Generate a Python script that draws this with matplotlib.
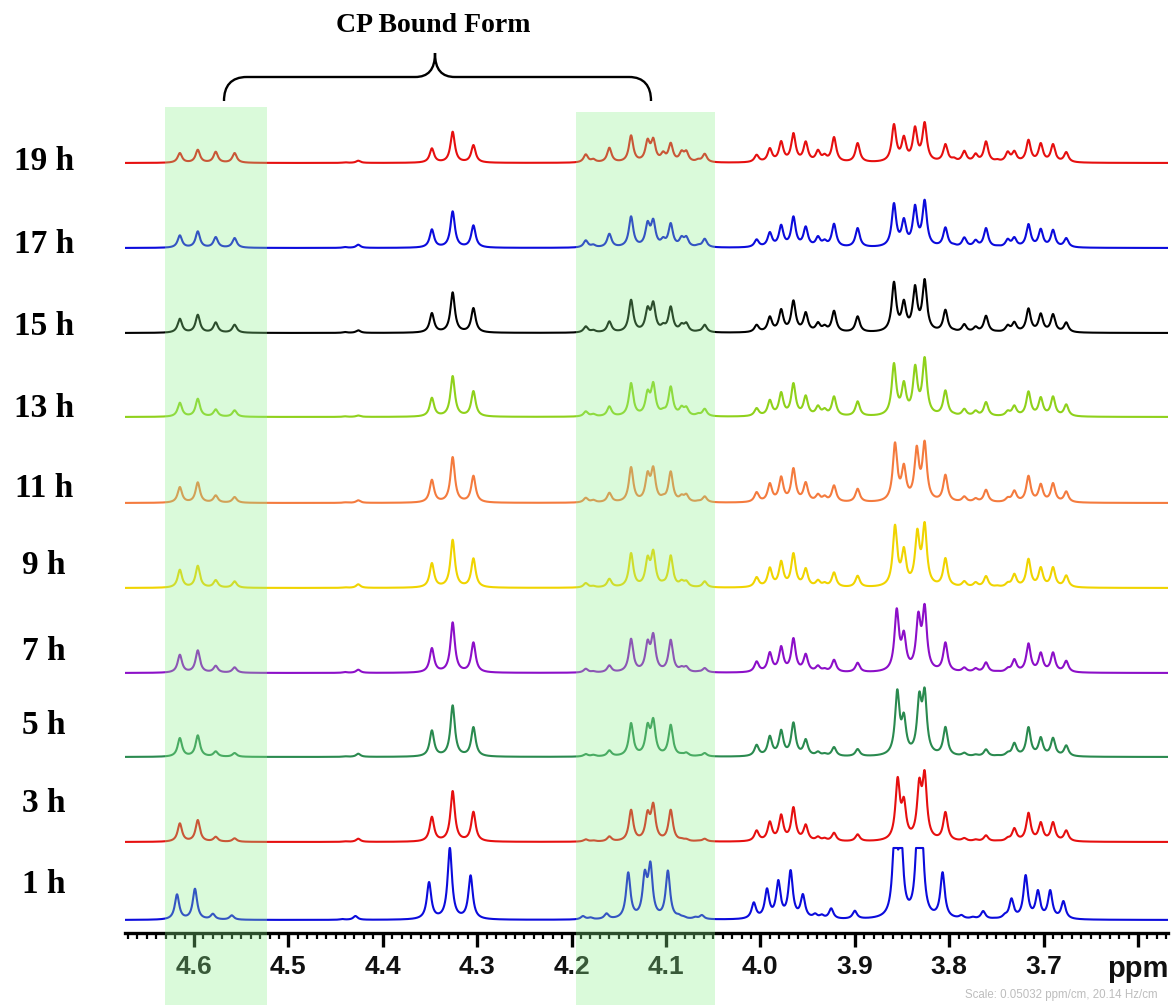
import numpy as np
import matplotlib
matplotlib.use("Agg")
import matplotlib.pyplot as plt
from matplotlib.patches import Rectangle, PathPatch
from matplotlib.path import Path
from matplotlib.ticker import MultipleLocator
from matplotlib.transforms import blended_transform_factory

W, H = 1171, 1005

times = ["1 h", "3 h", "5 h", "7 h", "9 h", "11 h", "13 h", "15 h", "17 h", "19 h"]
colors = ["#0b0bdc", "#e60f0f", "#2a8a4f", "#8c0fc8", "#f0d400",
          "#f47b3e", "#8fd11b", "#000000", "#0b0bdc", "#e60f0f"]

# resolved lines (ppm); the 3.85/3.83 entries are replaced per spectrum below
peak_ppm = [4.615, 4.596, 4.577, 4.557, 4.440, 4.426, 4.348, 4.326, 4.304,
            4.185, 4.177, 4.160, 4.137, 4.1195, 4.1135, 4.103, 4.095, 4.0835, 4.0785, 4.066, 4.059,
            4.004, 3.990, 3.978, 3.965, 3.952, 3.939, 3.932, 3.922, 3.897,
            3.858, 3.848, 3.836, 3.826,
            3.804, 3.795, 3.784, 3.772, 3.761, 3.749, 3.738, 3.731, 3.716, 3.703, 3.690, 3.676]

# line heights, same order as peak_ppm
h_1 = [25.7, 31.3, 6.3, 4.7, 1.0, 4.0, 38.0, 72.3, 44.7,
       4.0, 2.7, 6.7, 47.7, 50.0, 58.3, 7.7, 49.3, 6.0, 4.0, 3.3, 5.0,
       17.7, 31.7, 40.0, 50.0, 26.0, 6.7, 5.7, 11.7, 9.3,
       100, 90, 100, 95,
       47.7, 4.3, 5.0, 3.3, 9.0, 2.3, 6.7, 21.7, 45.0, 30.0, 30.0, 19.0]
h_3 = [18.7, 22.0, 5.3, 3.7, 0.7, 3.3, 25.3, 51.0, 30.3,
       2.7, 1.7, 5.7, 32.3, 31.7, 39.3, 6.7, 32.3, 4.0, 3.3, 1.7, 3.3,
       11.7, 20.7, 27.7, 35.0, 17.7, 5.7, 4.3, 9.3, 7.7,
       65.0, 45.0, 64.0, 71.7,
       30.0, 2.7, 4.0, 2.7, 6.7, 1.7, 5.0, 14.0, 29.3, 20.0, 20.0, 11.7]
h_5 = [19.0, 21.7, 5.7, 4.0, 0.7, 3.3, 26.7, 51.7, 30.0,
       3.0, 2.3, 6.7, 34.0, 34.0, 39.0, 6.7, 32.3, 4.0, 4.7, 1.7, 4.0,
       12.3, 21.3, 27.3, 34.7, 18.0, 5.7, 4.0, 10.0, 8.0,
       67.7, 44.3, 65.3, 69.3,
       30.0, 2.0, 4.3, 2.7, 7.7, 2.0, 5.3, 14.3, 30.0, 20.0, 19.3, 11.7]
h_7 = [18.3, 22.7, 7.3, 5.7, 1.0, 3.3, 25.0, 50.7, 30.7,
       4.3, 2.0, 7.7, 34.3, 33.3, 40.0, 7.0, 33.3, 7.0, 7.0, 2.0, 5.0,
       11.7, 21.0, 27.0, 35.0, 19.3, 7.7, 5.0, 13.3, 10.3,
       64.7, 42.3, 61.3, 69.0,
       30.7, 4.0, 5.7, 5.0, 10.7, 2.3, 5.7, 14.0, 29.7, 20.7, 20.7, 12.3]
h_9 = [18.3, 22.3, 8.0, 6.7, 0.7, 3.7, 25.0, 48.3, 29.7,
       5.0, 2.3, 9.3, 35.0, 32.3, 38.3, 7.7, 32.7, 8.3, 7.7, 1.7, 6.7,
       11.0, 20.7, 27.3, 35.0, 20.0, 8.3, 6.0, 15.7, 12.3,
       63.3, 41.0, 59.3, 66.0,
       30.0, 4.3, 7.0, 6.0, 12.0, 2.7, 6.0, 14.3, 29.3, 21.0, 21.0, 12.7]
h_11 = [16.0, 20.7, 7.7, 6.0, 0.7, 2.7, 23.3, 46.0, 27.3,
        5.3, 3.3, 10.3, 36.0, 31.7, 36.7, 8.7, 31.7, 8.7, 9.3, 2.7, 6.7,
        11.0, 20.0, 26.7, 35.0, 21.0, 9.3, 7.7, 17.7, 14.3,
        60.7, 39.3, 57.3, 62.3,
        28.3, 3.3, 6.7, 5.0, 13.3, 1.7, 6.0, 12.7, 27.3, 19.3, 20.0, 11.7]
h_13 = [14.3, 18.3, 7.7, 6.7, 0.7, 1.5, 19.3, 41.0, 26.0,
        5.7, 3.3, 10.7, 34.0, 27.3, 35.0, 9.0, 30.7, 11.3, 10.7, 4.0, 8.3,
        9.0, 17.3, 25.0, 34.0, 21.7, 11.7, 9.0, 20.7, 15.7,
        54.0, 36.0, 52.3, 60.0,
        26.7, 4.3, 8.3, 6.7, 15.0, 1.7, 6.7, 11.7, 25.7, 20.0, 20.7, 12.7]
h_15 = [14.3, 18.3, 10.7, 8.3, 1.0, 2.7, 20.0, 40.7, 25.0,
        6.7, 3.3, 11.7, 33.3, 26.7, 31.7, 10.0, 26.7, 10.0, 10.7, 2.7, 8.3,
        8.3, 16.7, 24.0, 32.7, 21.0, 11.0, 8.3, 22.3, 16.7,
        51.3, 33.3, 48.0, 54.0,
        23.3, 4.0, 9.0, 6.7, 17.3, 2.3, 8.3, 11.3, 24.7, 19.7, 19.0, 10.7]
h_17 = [12.7, 16.7, 11.0, 10.0, 1.0, 3.3, 18.7, 36.7, 22.7,
        7.7, 3.7, 14.3, 31.7, 27.0, 29.3, 11.0, 25.0, 12.0, 12.0, 3.7, 9.3,
        8.7, 16.0, 23.3, 31.7, 21.7, 12.0, 8.7, 24.3, 20.0,
        45.0, 30.0, 43.3, 48.3,
        20.7, 4.3, 10.7, 8.3, 20.0, 2.7, 9.3, 11.0, 24.0, 19.3, 18.3, 10.0]
h_19 = [10.0, 13.3, 11.3, 10.0, 0.7, 2.3, 14.7, 31.3, 18.0,
        8.7, 4.3, 15.3, 27.7, 24.3, 25.3, 11.7, 20.3, 12.7, 12.7, 4.3, 9.3,
        8.3, 15.0, 22.0, 30.0, 21.7, 13.3, 9.3, 26.0, 20.0,
        39.0, 27.3, 36.7, 41.0,
        19.0, 5.7, 12.3, 9.7, 21.7, 4.0, 11.7, 12.3, 23.3, 20.0, 19.0, 11.0]

intensities = [h_1, h_3, h_5, h_7, h_9, h_11, h_13, h_15, h_17, h_19]

# the outer members of the 3.85/3.83 pairs move with time
drift_a_ppm = [3.8545, 3.8546, 3.8550, 3.8556, 3.8574, 3.8574, 3.8585, 3.8585, 3.8585, 3.8585]
drift_b_ppm = [3.8305, 3.8317, 3.8317, 3.8327, 3.8338, 3.8344, 3.8360, 3.8362, 3.8362, 3.8362]
# referencing offset of each spectrum (ppm)
ref_shift = [0.003, 0, 0, 0, 0, 0, 0, 0, 0, 0]

# layout (pixel rows of the figure)
AXIS_Y = 933
BASELINE_Y = [920, 842, 757, 673, 588, 503, 417, 333, 248, 163]
LABEL_Y = [893, 812, 734, 660, 574, 497, 417, 335, 253, 170]
X_LEFT, X_RIGHT = 4.6731, 3.5682

HWHM = 0.0028
CLIP = 72.0


def lorentz(x, x0):
    return 1.0 / (1.0 + ((x - x0) / HWHM) ** 2)


def spectrum(grid, centers, heights):
    centers = np.asarray(centers, float)
    heights = np.asarray(heights, float)
    # pick amplitudes so the summed lines peak at the listed heights
    overlap = lorentz(centers[:, None], centers[None, :])
    amps = np.clip(np.linalg.solve(overlap, heights), 0, None)
    y = (amps[:, None] * lorentz(grid[None, :], centers[:, None])).sum(axis=0)
    return np.minimum(y, CLIP)


def fig_xy(x, y):
    return x / W, 1 - y / H


fig = plt.figure(figsize=(W / 100, H / 100), dpi=100)
ax = fig.add_axes([125 / W, (H - AXIS_Y) / H, (1168 - 125) / W, 840 / H])
ax.set_xlim(X_LEFT, X_RIGHT)
ax.set_ylim(0, 840)

grid = np.linspace(X_LEFT, X_RIGHT, 12000)
for i, (hts, col) in enumerate(zip(intensities, colors)):
    centers = list(peak_ppm)
    centers[30] = drift_a_ppm[i]
    centers[32] = drift_b_ppm[i]
    centers = np.array(centers) + ref_shift[i]
    y = spectrum(grid, centers, hts) + (AXIS_Y - BASELINE_Y[i])
    ax.plot(grid, y, color=col, lw=1.5, solid_joinstyle="round")

for side in ["top", "left", "right"]:
    ax.spines[side].set_visible(False)
ax.spines["bottom"].set_linewidth(2.4)
ax.set_yticks([])

ticks = np.round(np.arange(4.6, 3.55, -0.1), 1)
ax.set_xticks(ticks)
ax.set_xticklabels([f"{t:.1f}" for t in ticks[:-1]] + ["ppm"])
ax.xaxis.set_minor_locator(MultipleLocator(0.01))
ax.tick_params(axis="x", which="major", direction="out", length=10, width=2.4,
               pad=6, labelsize=19, labelcolor="#111111")
ax.tick_params(axis="x", which="minor", direction="out", length=4, width=1.6)
for lab in ax.get_xticklabels():
    lab.set_fontfamily("Liberation Sans")
    lab.set_fontweight("bold")
ax.get_xticklabels()[-1].set_fontsize(21)

# time labels
for t, ly in zip(times, LABEL_Y):
    fig.text(*fig_xy(44, ly), t, ha="center", va="baseline",
             family="Liberation Serif", weight="bold", size=24)

# highlighted regions of the bound form
blend = blended_transform_factory(ax.transData, fig.transFigure)
for lo, hi, top in [(4.5227, 4.6307, 107), (4.0481, 4.1953, 112)]:
    fig.add_artist(Rectangle((lo, 0), hi - lo, 1 - top / H, transform=blend,
                             facecolor=(0.55, 0.95, 0.55), alpha=0.32,
                             edgecolor="none", zorder=5))

# brace over the two regions
brace_px = [(224, 101), (224, 86), (231, 77), (247, 77),
            (415, 77),
            (428, 77), (435, 70), (435, 53),
            (435, 70), (442, 77), (455, 77),
            (629, 77),
            (644, 77), (651, 86), (651, 101)]
codes = ([Path.MOVETO] + [Path.CURVE4] * 3 + [Path.LINETO] + [Path.CURVE4] * 6
         + [Path.LINETO] + [Path.CURVE4] * 3)
brace = Path([fig_xy(x, y) for x, y in brace_px], codes)
fig.add_artist(PathPatch(brace, transform=fig.transFigure, facecolor="none",
                         edgecolor="black", lw=1.7))
fig.text(*fig_xy(433, 25), "CP Bound Form", ha="center", va="center",
         family="Liberation Serif", weight="bold", size=20)

fig.text(*fig_xy(1158, 995), "Scale: 0.05032 ppm/cm, 20.14 Hz/cm", ha="right",
         va="center", size=8.3, color="#bdbdbd", family="Liberation Sans")

fig.savefig("out.png", dpi=100)
